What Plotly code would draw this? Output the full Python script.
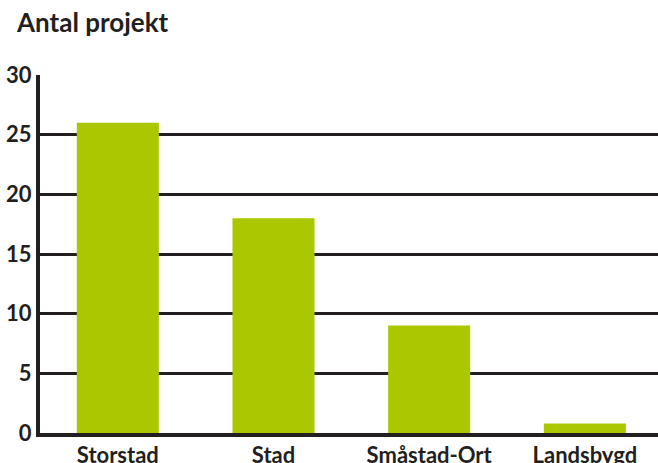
import plotly.graph_objects as go

categories = ["Storstad", "Stad", "Småstad-Ort", "Landsbygd"]
values = [26, 18, 9, 0.8]
y_ticks = [0, 5, 10, 15, 20, 25, 30]

ink = "#231f20"
green = "#abc700"

fig = go.Figure(go.Bar(x=categories, y=values, marker=dict(color=green, line=dict(width=0)),
                       width=0.527))

fig.update_layout(
    width=658, height=463,
    margin=dict(l=40, r=0, t=75, b=30),
    paper_bgcolor="white", plot_bgcolor="white",
    showlegend=False,
    font=dict(family="Lato", color=ink),
    annotations=[dict(text="Antal projekt", xref="paper", yref="paper",
                      x=-26/618, y=1 + 53/358, xanchor="left", yanchor="middle",
                      showarrow=False, font=dict(size=26, color=ink, family="Lato", weight="bold"))],
)
fig.update_xaxes(range=[-0.5, 3.47], showline=True, linecolor=ink, linewidth=4,
                 showgrid=False, ticks="", automargin=False,
                 tickfont=dict(size=22, family="Lato", color=ink, weight="bold"))
fig.update_yaxes(range=[0, 30], tickvals=y_ticks,
                 showline=True, linecolor=ink, linewidth=4,
                 showgrid=True, gridcolor=ink, gridwidth=3, zeroline=False,
                 ticks="", automargin=False,
                 tickfont=dict(size=22, family="Lato", color=ink, weight="bold"))

fig.write_html("out.html", config={"displayModeBar": False},
               post_script="document.body.style.margin='0px';")
